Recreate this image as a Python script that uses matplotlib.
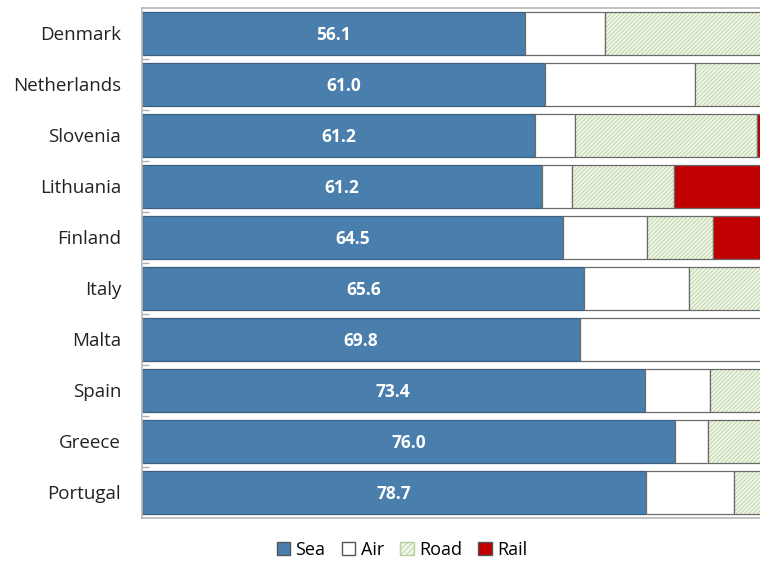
import numpy as np
import matplotlib
matplotlib.use("Agg")
import matplotlib.pyplot as plt
from matplotlib.patches import Patch

plt.rcParams['font.family'] = ['Open Sans', 'DejaVu Sans']
plt.rcParams['hatch.linewidth'] = 0.6

# data (bar lengths, labels as printed)
countries = ['Denmark', 'Netherlands', 'Slovenia', 'Lithuania', 'Finland',
             'Italy', 'Malta', 'Spain', 'Greece', 'Portugal']
sea = [54.7, 57.6, 56.1, 57.1, 60.1, 63.2, 62.6, 71.8, 76.1, 72.0]
air = [11.4, 21.4, 5.7, 4.3, 12.1, 14.9, 37.4, 9.3, 4.8, 12.5]
road = [33.9, 21.0, 26.0, 14.6, 9.3, 21.9, 0.0, 18.9, 19.1, 15.5]
rail = [0.0, 0.0, 12.2, 24.0, 18.5, 0.0, 0.0, 0.0, 0.0, 0.0]
sea_labels = ['56.1', '61.0', '61.2', '61.2', '64.5', '65.6', '69.8', '73.4', '76.0', '78.7']

sea_col = '#4a7ead'
rail_col = '#c00000'
road_bg = '#f1f6ea'
road_hatch = '#b5d19a'
edge = '#6b6b6b'

fig = plt.figure(figsize=(7.6, 5.64), dpi=100)
ax = fig.add_axes([142/760, 46/564, 700/760, 510/564])

y = np.arange(len(countries))
h = 0.835
sea = np.array(sea); air = np.array(air); road = np.array(road); rail = np.array(rail)

ax.barh(y, sea, height=h, color=sea_col, edgecolor='#3d5f80', linewidth=0.9)
ax.barh(y, air, left=sea, height=h, color='white', edgecolor=edge, linewidth=0.9)
ax.barh(y, road, left=sea + air, height=h, color=road_bg, edgecolor=road_hatch,
        hatch='////////', linewidth=0)
ax.barh(y, road, left=sea + air, height=h, color='none', edgecolor=edge, linewidth=0.9)
ax.barh(y, rail, left=sea + air + road, height=h, color=rail_col, edgecolor=edge, linewidth=0.9)

for i in range(len(countries)):
    ax.text(sea[i] / 2, y[i] + 0.02, sea_labels[i], ha='center', va='center',
            color='white', fontsize=12.5, fontweight='bold')

ax.set_xlim(0, 100)
ax.set_ylim(len(countries) - 0.5, -0.5)
ax.set_yticks(y)
ax.set_yticklabels(countries, fontsize=13.5, color='#222222')
ax.tick_params(axis='y', which='major', length=0, pad=15)
ax.set_yticks(np.arange(0.5, len(countries) - 1, 1.0), minor=True)
ax.tick_params(axis='y', which='minor', direction='in', length=5, color='#b0b0b0', width=1)
ax.set_xticks([])
for s in ax.spines.values():
    s.set_color('#b8b8b8')
    s.set_linewidth(1.2)

handles = [Patch(facecolor=sea_col, edgecolor='#555555', label='Sea'),
           Patch(facecolor='white', edgecolor='#555555', label='Air'),
           Patch(facecolor=road_bg, edgecolor=road_hatch, hatch='//////', label='Road'),
           Patch(facecolor=rail_col, edgecolor='#555555', label='Rail')]
fig.legend(handles=handles, loc='center', bbox_to_anchor=(402/760, 14/564), ncol=4,
           frameon=False, fontsize=13, handlelength=0.75, handleheight=0.75,
           handletextpad=0.3, columnspacing=0.9)

fig.savefig('out.png', dpi=100)
